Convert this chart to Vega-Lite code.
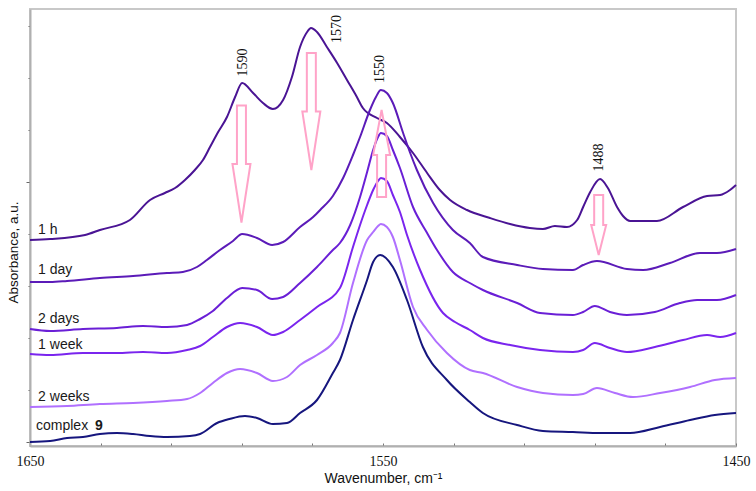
{
  "$schema": "https://vega.github.io/schema/vega-lite/v6.json",
  "width": 706,
  "height": 437,
  "autosize": {"type": "none"},
  "padding": {"left": 30, "top": 9, "right": 20, "bottom": 45},
  "background": "white",
  "config": {
    "view": {"stroke": "#c8c8c8", "strokeWidth": 2},
    "axis": {"grid": false}
  },
  "datasets": {
    "spectra": [
      {"s":"1 h","w":1650,"a":202},{"s":"1 h","w":1644.3,"a":203},{"s":"1 h","w":1634.4,"a":207},{"s":"1 h","w":1630.2,"a":212},{"s":"1 h","w":1621.7,"a":222},{"s":"1 h","w":1616.0,"a":242},{"s":"1 h","w":1611.8,"a":249},{"s":"1 h","w":1608.9,"a":254},{"s":"1 h","w":1606.1,"a":262},{"s":"1 h","w":1603.3,"a":272},{"s":"1 h","w":1601.0,"a":282},{"s":"1 h","w":1599.0,"a":295},{"s":"1 h","w":1596.7,"a":310},{"s":"1 h","w":1594.2,"a":325},{"s":"1 h","w":1591.9,"a":345},{"s":"1 h","w":1589.9,"a":359},{"s":"1 h","w":1586.8,"a":349},{"s":"1 h","w":1584.0,"a":339},{"s":"1 h","w":1581.2,"a":333},{"s":"1 h","w":1578.3,"a":342},{"s":"1 h","w":1575.8,"a":365},{"s":"1 h","w":1573.5,"a":395},{"s":"1 h","w":1571.5,"a":410},{"s":"1 h","w":1570.4,"a":414},{"s":"1 h","w":1568.7,"a":410},{"s":"1 h","w":1565.9,"a":395},{"s":"1 h","w":1563.0,"a":379},{"s":"1 h","w":1560.2,"a":362},{"s":"1 h","w":1557.4,"a":345},{"s":"1 h","w":1555.7,"a":334},{"s":"1 h","w":1551.7,"a":324},{"s":"1 h","w":1548.9,"a":319},{"s":"1 h","w":1545.2,"a":305},{"s":"1 h","w":1541.5,"a":289},{"s":"1 h","w":1537.5,"a":269},{"s":"1 h","w":1533.9,"a":252},{"s":"1 h","w":1531.0,"a":242},{"s":"1 h","w":1526.2,"a":232},{"s":"1 h","w":1519.7,"a":224},{"s":"1 h","w":1514.0,"a":218},{"s":"1 h","w":1508.4,"a":214},{"s":"1 h","w":1504.7,"a":213},{"s":"1 h","w":1501.3,"a":216},{"s":"1 h","w":1497.9,"a":215},{"s":"1 h","w":1495.0,"a":222},{"s":"1 h","w":1493.3,"a":235},{"s":"1 h","w":1491.3,"a":250},{"s":"1 h","w":1488.5,"a":263},{"s":"1 h","w":1486.3,"a":254},{"s":"1 h","w":1483.7,"a":235},{"s":"1 h","w":1482.0,"a":226},{"s":"1 h","w":1480.0,"a":221},{"s":"1 h","w":1472.4,"a":221},{"s":"1 h","w":1465.0,"a":235},{"s":"1 h","w":1458.2,"a":246},{"s":"1 h","w":1454.5,"a":247},{"s":"1 h","w":1451.7,"a":252},{"s":"1 h","w":1450,"a":257},

      {"s":"1 day","w":1650,"a":160},{"s":"1 day","w":1644.3,"a":160},{"s":"1 day","w":1639.5,"a":161},{"s":"1 day","w":1630.2,"a":164},{"s":"1 day","w":1620.8,"a":166},{"s":"1 day","w":1611.2,"a":169},{"s":"1 day","w":1606.7,"a":170},{"s":"1 day","w":1602.7,"a":175},{"s":"1 day","w":1599.9,"a":182},{"s":"1 day","w":1596.2,"a":192},{"s":"1 day","w":1592.5,"a":201},{"s":"1 day","w":1589.9,"a":208},{"s":"1 day","w":1585.7,"a":204},{"s":"1 day","w":1581.4,"a":197},{"s":"1 day","w":1578.3,"a":200},{"s":"1 day","w":1573.5,"a":215},{"s":"1 day","w":1569.8,"a":225},{"s":"1 day","w":1567.8,"a":232},{"s":"1 day","w":1564.2,"a":246},{"s":"1 day","w":1561.3,"a":264},{"s":"1 day","w":1558.5,"a":287},{"s":"1 day","w":1556.5,"a":305},{"s":"1 day","w":1553.7,"a":332},{"s":"1 day","w":1552.0,"a":345},{"s":"1 day","w":1550.6,"a":352},{"s":"1 day","w":1548.9,"a":349},{"s":"1 day","w":1547.2,"a":339},{"s":"1 day","w":1544.3,"a":309},{"s":"1 day","w":1542.4,"a":290},{"s":"1 day","w":1540.4,"a":272},{"s":"1 day","w":1535.8,"a":239},{"s":"1 day","w":1530.2,"a":212},{"s":"1 day","w":1525.4,"a":199},{"s":"1 day","w":1521.7,"a":185},{"s":"1 day","w":1512.0,"a":177},{"s":"1 day","w":1504.7,"a":173},{"s":"1 day","w":1496.2,"a":172},{"s":"1 day","w":1493.3,"a":177},{"s":"1 day","w":1489.4,"a":181},{"s":"1 day","w":1480.9,"a":173},{"s":"1 day","w":1476.3,"a":172},{"s":"1 day","w":1468.7,"a":179},{"s":"1 day","w":1460.2,"a":189},{"s":"1 day","w":1455.4,"a":189},{"s":"1 day","w":1450,"a":193},

      {"s":"2 days","w":1650,"a":113},{"s":"2 days","w":1644.3,"a":111},{"s":"2 days","w":1635.0,"a":113},{"s":"2 days","w":1625.4,"a":114},{"s":"2 days","w":1618.0,"a":116},{"s":"2 days","w":1611.2,"a":115},{"s":"2 days","w":1605.5,"a":117},{"s":"2 days","w":1601.8,"a":123},{"s":"2 days","w":1598.2,"a":131},{"s":"2 days","w":1594.2,"a":144},{"s":"2 days","w":1589.9,"a":154},{"s":"2 days","w":1585.7,"a":152},{"s":"2 days","w":1581.4,"a":143},{"s":"2 days","w":1578.3,"a":145},{"s":"2 days","w":1573.5,"a":159},{"s":"2 days","w":1568.7,"a":175},{"s":"2 days","w":1564.2,"a":192},{"s":"2 days","w":1562.2,"a":199},{"s":"2 days","w":1559.3,"a":217},{"s":"2 days","w":1556.5,"a":245},{"s":"2 days","w":1554.5,"a":270},{"s":"2 days","w":1552.8,"a":292},{"s":"2 days","w":1551.4,"a":305},{"s":"2 days","w":1550.6,"a":309},{"s":"2 days","w":1548.9,"a":306},{"s":"2 days","w":1547.2,"a":292},{"s":"2 days","w":1545.2,"a":274},{"s":"2 days","w":1541.5,"a":235},{"s":"2 days","w":1537.5,"a":209},{"s":"2 days","w":1534.7,"a":192},{"s":"2 days","w":1530.2,"a":170},{"s":"2 days","w":1525.4,"a":159},{"s":"2 days","w":1521.7,"a":152},{"s":"2 days","w":1512.0,"a":139},{"s":"2 days","w":1505.5,"a":129},{"s":"2 days","w":1496.2,"a":127},{"s":"2 days","w":1493.3,"a":130},{"s":"2 days","w":1490.0,"a":136},{"s":"2 days","w":1485.7,"a":130},{"s":"2 days","w":1480.9,"a":127},{"s":"2 days","w":1473.0,"a":130},{"s":"2 days","w":1465.9,"a":139},{"s":"2 days","w":1461.0,"a":142},{"s":"2 days","w":1455.4,"a":142},{"s":"2 days","w":1450,"a":147},

      {"s":"1 week","w":1650,"a":88},{"s":"1 week","w":1644.3,"a":87},{"s":"1 week","w":1635.0,"a":89},{"s":"1 week","w":1625.4,"a":89},{"s":"1 week","w":1618.0,"a":90},{"s":"1 week","w":1611.2,"a":89},{"s":"1 week","w":1605.5,"a":92},{"s":"1 week","w":1601.8,"a":96},{"s":"1 week","w":1598.2,"a":105},{"s":"1 week","w":1594.2,"a":115},{"s":"1 week","w":1590.5,"a":119},{"s":"1 week","w":1585.7,"a":115},{"s":"1 week","w":1581.2,"a":107},{"s":"1 week","w":1578.3,"a":110},{"s":"1 week","w":1573.5,"a":122},{"s":"1 week","w":1568.7,"a":135},{"s":"1 week","w":1562.2,"a":154},{"s":"1 week","w":1558.5,"a":195},{"s":"1 week","w":1556.5,"a":217},{"s":"1 week","w":1554.5,"a":237},{"s":"1 week","w":1552.8,"a":252},{"s":"1 week","w":1551.4,"a":261},{"s":"1 week","w":1550.6,"a":264},{"s":"1 week","w":1548.9,"a":261},{"s":"1 week","w":1547.2,"a":247},{"s":"1 week","w":1545.2,"a":230},{"s":"1 week","w":1543.2,"a":207},{"s":"1 week","w":1539.5,"a":172},{"s":"1 week","w":1533.0,"a":129},{"s":"1 week","w":1529.6,"a":120},{"s":"1 week","w":1525.4,"a":112},{"s":"1 week","w":1521.7,"a":104},{"s":"1 week","w":1514.0,"a":97},{"s":"1 week","w":1505.5,"a":92},{"s":"1 week","w":1496.2,"a":90},{"s":"1 week","w":1493.3,"a":92},{"s":"1 week","w":1490.0,"a":99},{"s":"1 week","w":1485.7,"a":94},{"s":"1 week","w":1480.9,"a":90},{"s":"1 week","w":1473.0,"a":95},{"s":"1 week","w":1465.0,"a":102},{"s":"1 week","w":1458.2,"a":107},{"s":"1 week","w":1454.5,"a":105},{"s":"1 week","w":1450,"a":109},

      {"s":"2 weeks","w":1650,"a":35},{"s":"2 weeks","w":1639.5,"a":36},{"s":"2 weeks","w":1630.2,"a":38},{"s":"2 weeks","w":1620.8,"a":39},{"s":"2 weeks","w":1611.2,"a":41},{"s":"2 weeks","w":1605.5,"a":43},{"s":"2 weeks","w":1601.8,"a":49},{"s":"2 weeks","w":1598.2,"a":59},{"s":"2 weeks","w":1594.2,"a":69},{"s":"2 weeks","w":1590.5,"a":73},{"s":"2 weeks","w":1585.7,"a":69},{"s":"2 weeks","w":1581.2,"a":61},{"s":"2 weeks","w":1577.2,"a":65},{"s":"2 weeks","w":1573.5,"a":77},{"s":"2 weeks","w":1568.7,"a":87},{"s":"2 weeks","w":1564.2,"a":99},{"s":"2 weeks","w":1562.2,"a":109},{"s":"2 weeks","w":1558.5,"a":159},{"s":"2 weeks","w":1554.5,"a":202},{"s":"2 weeks","w":1552.8,"a":210},{"s":"2 weeks","w":1551.4,"a":216},{"s":"2 weeks","w":1550.6,"a":218},{"s":"2 weeks","w":1548.9,"a":215},{"s":"2 weeks","w":1547.2,"a":205},{"s":"2 weeks","w":1545.2,"a":182},{"s":"2 weeks","w":1541.5,"a":135},{"s":"2 weeks","w":1537.5,"a":112},{"s":"2 weeks","w":1531.9,"a":89},{"s":"2 weeks","w":1525.4,"a":72},{"s":"2 weeks","w":1521.7,"a":69},{"s":"2 weeks","w":1512.0,"a":55},{"s":"2 weeks","w":1504.7,"a":49},{"s":"2 weeks","w":1496.2,"a":47},{"s":"2 weeks","w":1493.3,"a":48},{"s":"2 weeks","w":1489.4,"a":54},{"s":"2 weeks","w":1484.3,"a":49},{"s":"2 weeks","w":1479.2,"a":45},{"s":"2 weeks","w":1471.5,"a":49},{"s":"2 weeks","w":1463.0,"a":55},{"s":"2 weeks","w":1456.0,"a":62},{"s":"2 weeks","w":1450,"a":64},

      {"s":"complex 9","w":1650,"a":0},{"s":"complex 9","w":1644.3,"a":1},{"s":"complex 9","w":1639.5,"a":4},{"s":"complex 9","w":1635.0,"a":5},{"s":"complex 9","w":1630.2,"a":8},{"s":"complex 9","w":1625.4,"a":9},{"s":"complex 9","w":1620.8,"a":8},{"s":"complex 9","w":1616.0,"a":6},{"s":"complex 9","w":1611.2,"a":5},{"s":"complex 9","w":1604.7,"a":6},{"s":"complex 9","w":1601.8,"a":8},{"s":"complex 9","w":1597.0,"a":19},{"s":"complex 9","w":1593.5,"a":23},{"s":"complex 9","w":1589.1,"a":26},{"s":"complex 9","w":1585.7,"a":24},{"s":"complex 9","w":1581.2,"a":18},{"s":"complex 9","w":1577.2,"a":19},{"s":"complex 9","w":1573.5,"a":29},{"s":"complex 9","w":1568.7,"a":42},{"s":"complex 9","w":1564.2,"a":69},{"s":"complex 9","w":1562.2,"a":82},{"s":"complex 9","w":1558.5,"a":122},{"s":"complex 9","w":1554.5,"a":162},{"s":"complex 9","w":1552.8,"a":180},{"s":"complex 9","w":1550.8,"a":187},{"s":"complex 9","w":1547.2,"a":175},{"s":"complex 9","w":1543.2,"a":142},{"s":"complex 9","w":1538.7,"a":95},{"s":"complex 9","w":1531.9,"a":62},{"s":"complex 9","w":1525.4,"a":40},{"s":"complex 9","w":1521.7,"a":29},{"s":"complex 9","w":1512.0,"a":17},{"s":"complex 9","w":1504.7,"a":11},{"s":"complex 9","w":1496.2,"a":10},{"s":"complex 9","w":1488.5,"a":9},{"s":"complex 9","w":1480.0,"a":9},{"s":"complex 9","w":1471.5,"a":15},{"s":"complex 9","w":1463.0,"a":22},{"s":"complex 9","w":1456.0,"a":27},{"s":"complex 9","w":1450,"a":29}
    ],
    "names": [
      {"w":1647.7,"a":212.5,"t":"1 h"},
      {"w":1647.7,"a":172,"t":"1 day"},
      {"w":1647.7,"a":123,"t":"2 days"},
      {"w":1647.7,"a":97,"t":"1 week"},
      {"w":1647.7,"a":45,"t":"2 weeks"},
      {"w":1648.3,"a":16,"t":"complex"}
    ],
    "bold": [
      {"w":1631.6,"a":16,"t":"9"}
    ],
    "peaks": [
      {"w":1589.8,"a":379.5,"t":"1590"},
      {"w":1563.0,"a":413,"t":"1570"},
      {"w":1550.8,"a":373,"t":"1550"},
      {"w":1488.8,"a":284.5,"t":"1488"}
    ],
    "arrows": [
      {"w":1590.1,"a":278,"k":"down"},
      {"w":1570.3,"a":330.5,"k":"down"},
      {"w":1550.4,"a":288.5,"k":"up"},
      {"w":1488.9,"a":217,"k":"short"}
    ]
  },
  "layer": [
    {
      "data": {"name": "spectra"},
      "mark": {"type": "line", "strokeWidth": 2, "interpolate": "monotone"},
      "encoding": {
        "x": {
          "field": "w", "type": "quantitative",
          "scale": {"domain": [1450, 1650], "reverse": true, "nice": false, "zero": false},
          "axis": {
            "title": "Wavenumber, cm⁻¹",
            "titleFont": "Liberation Sans", "titleFontSize": 14, "titleFontWeight": "normal", "titleColor": "#111",
            "titleBaseline": "middle", "titleY": 32,
            "values": [1450,1460,1470,1480,1490,1500,1510,1520,1530,1540,1550,1560,1570,1580,1590,1600,1610,1620,1630,1640,1650],
            "format": "d",
            "labelExpr": "datum.value % 50 == 0 ? datum.label : ''",
            "labelOverlap": false, "labelFlush": false,
            "labelFont": "Liberation Serif", "labelFontSize": 14, "labelColor": "#111",
            "labelPadding": 11,
            "tickSize": -3, "tickColor": "#777",
            "domainColor": "#b0b0b0", "domainWidth": 2
          }
        },
        "y": {
          "field": "a", "type": "quantitative",
          "scale": {"domain": [-4, 433], "nice": false, "zero": false},
          "axis": {
            "title": "Absorbance, a.u.",
            "titleFont": "Liberation Sans", "titleFontSize": 13.5, "titleFontWeight": "normal", "titleColor": "#111",
            "titleAngle": 270, "titleAlign": "center", "titleBaseline": "middle", "titleX": -17, "titleY": 243,
            "labels": false,
            "values": [0,3.25,6.5,9.75,13,16.25,19.5,22.75,26,29.25,32.5,35.75,39,42.25,45.5,48.75,52,55.25,58.5,61.75,65,68.25,71.5,74.75,78,81.25,84.5,87.75,91,94.25,97.5,100.75,104,107.25,110.5,113.75,117,120.25,123.5,126.75,130,133.25,136.5,139.75,143,146.25,149.5,152.75,156,159.25,162.5,165.75,169,172.25,175.5,178.75,182,185.25,188.5,191.75,195,198.25,201.5,204.75,208,211.25,214.5,217.75,221,224.25,227.5,230.75,234,237.25,240.5,243.75,247,250.25,253.5,256.75,260,263.25,266.5,269.75,273,276.25,279.5,282.75,286,289.25,292.5,295.75,299,302.25,305.5,308.75,312,315.25,318.5,321.75,325,328.25,331.5,334.75,338,341.25,344.5,347.75,351,354.25,357.5,360.75,364,367.25,370.5,373.75,377,380.25,383.5,386.75,390,393.25,396.5,399.75,403,406.25,409.5,412.75,416,419.25,422.5,425.75,429,432.25],
            "tickSize": {"condition": {"test": "abs(datum.value/32.5 - round(datum.value/32.5)) < 0.01", "value": 4}, "value": 2},
            "tickColor": "#666",
            "domainColor": "#b0b0b0", "domainWidth": 2
          }
        },
        "order": {"field": "w", "type": "quantitative", "sort": "descending"},
        "color": {
          "field": "s", "type": "nominal",
          "scale": {
            "domain": ["1 h", "1 day", "2 days", "1 week", "2 weeks", "complex 9"],
            "range": ["#4A1494", "#5B1BB8", "#6A1FD6", "#7A25EE", "#B070FF", "#16167E"]
          },
          "legend": null
        }
      }
    },
    {
      "data": {"name": "arrows"},
      "mark": {"type": "point", "filled": false, "size": 13689, "stroke": "#FFA3C8", "strokeWidth": 2, "opacity": 1},
      "encoding": {
        "x": {"field": "w", "type": "quantitative"},
        "y": {"field": "a", "type": "quantitative"},
        "shape": {
          "field": "k", "type": "nominal",
          "scale": {
            "domain": ["down", "up", "short"],
            "range": [
              "M-0.077,-1L0.077,-1L0.077,0L0.154,0L0,1L-0.154,0L-0.077,0Z",
              "M0,-0.744L0.145,0.026L0.077,0.026L0.077,0.744L-0.077,0.744L-0.077,0.026L-0.145,0.026Z",
              "M-0.077,-0.513L0.077,-0.513L0.077,0L0.128,0L0,0.513L-0.128,0L-0.077,0Z"
            ]
          },
          "legend": null
        }
      }
    },
    {
      "data": {"name": "names"},
      "mark": {"type": "text", "align": "left", "baseline": "middle", "font": "Liberation Sans", "fontSize": 14, "color": "#1a1a1a"},
      "encoding": {
        "x": {"field": "w", "type": "quantitative"},
        "y": {"field": "a", "type": "quantitative"},
        "text": {"field": "t"}
      }
    },
    {
      "data": {"name": "bold"},
      "mark": {"type": "text", "align": "left", "baseline": "middle", "font": "Liberation Sans", "fontSize": 14, "fontWeight": "bold", "color": "#1a1a1a"},
      "encoding": {
        "x": {"field": "w", "type": "quantitative"},
        "y": {"field": "a", "type": "quantitative"},
        "text": {"field": "t"}
      }
    },
    {
      "data": {"name": "peaks"},
      "mark": {"type": "text", "angle": 270, "align": "center", "baseline": "middle", "font": "Liberation Serif", "fontSize": 14, "color": "#111"},
      "encoding": {
        "x": {"field": "w", "type": "quantitative"},
        "y": {"field": "a", "type": "quantitative"},
        "text": {"field": "t"}
      }
    }
  ]
}
